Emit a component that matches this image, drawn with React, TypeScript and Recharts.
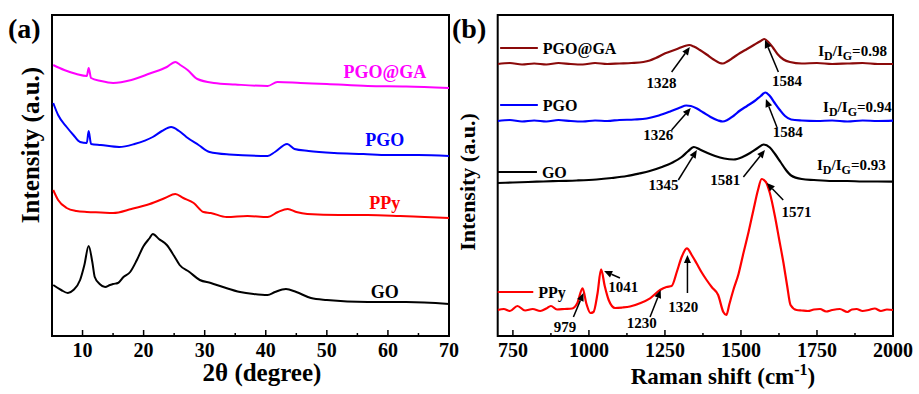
import React from "react"
import { LineChart, Line, XAxis, YAxis, ReferenceArea, ReferenceLine, ReferenceDot, Customized } from "recharts"

const FONT = '"Liberation Serif", "DejaVu Serif", serif'

// ---- (a) XRD: [2θ, intensity] ----
const xrdGO: [number, number][] = [
  [5.2, 51], [6.5, 46], [7.6, 43], [8.5, 46], [9.6, 56], [10.3, 71], [11.0, 90], [11.6, 74], [12.0, 59],
  [12.8, 52], [13.7, 49], [14.5, 51], [15.0, 52], [15.8, 53], [16.7, 59], [17.8, 64], [18.9, 76], [20.0, 90],
  [21.0, 98], [21.5, 102], [22.5, 97], [23.8, 91], [25.0, 80], [25.9, 71], [27.5, 64], [29.2, 56], [31, 53],
  [33, 49], [35.8, 44], [38, 42], [40.3, 41], [41.5, 44], [43.3, 47], [45, 44], [47.4, 38], [50, 36],
  [56.7, 34], [63, 34], [70, 32],
]
const xrdPPy: [number, number][] = [
  [5.2, 146], [6, 136], [7.4, 128], [9, 125], [10.7, 124], [13, 123.5], [15.0, 123], [18, 127], [21.0, 132],
  [23.5, 138], [25.2, 142], [26.5, 138], [28.2, 133], [29.8, 124], [31, 123], [33.6, 119], [37, 120],
  [40.3, 119], [42, 124], [43.6, 127], [45, 124], [46.8, 122], [52, 121], [56.7, 121], [62, 120], [66, 119],
  [70, 118],
]
const xrdPGO: [number, number][] = [
  [5.2, 233], [6, 221], [7.4, 209], [8.5, 201], [9.6, 194], [10.7, 193], [11.0, 205], [11.4, 192], [13, 191],
  [16.0, 189], [18.5, 192], [21.5, 199], [23, 205], [24.5, 209], [25.8, 205], [27.0, 199], [29, 191],
  [30.8, 184], [34, 181.5], [40.3, 180], [41.5, 184], [43.5, 192], [44.7, 187], [47, 185], [51.2, 183],
  [56, 182], [60, 181], [65, 181], [70, 180],
]
const xrdPGOGA: [number, number][] = [
  [5.2, 271], [7, 266], [9, 262], [10.7, 260], [11.0, 268], [11.4, 258], [13, 255], [15.0, 253], [18, 256],
  [21, 262.5], [23.8, 269], [25.2, 274], [26, 271], [27.2, 266], [28.8, 257], [31.5, 253], [35, 251.5],
  [40.3, 250], [41.9, 254], [45.7, 253], [50, 252], [56.7, 250], [63, 249.5], [70, 248],
]
const xrdMajorTicks = [10, 20, 30, 40, 50, 60, 70]
const xrdMinorTicks = [15, 25, 35, 45, 55, 65]

// ---- (b) Raman: [shift, intensity] ----
const ramanPGOGA: [number, number][] = [
  [700, 272], [740, 273], [780, 271.5], [820, 272.5], [860, 271.5], [900, 273], [940, 272], [980, 271.5],
  [1020, 273], [1060, 272], [1100, 272.5], [1140, 273], [1179, 274], [1200, 275.5], [1220, 278], [1251, 282.7],
  [1290, 287], [1315, 290], [1330, 291], [1345, 289.5], [1365, 286], [1387, 281.5], [1410, 276.5],
  [1430, 273], [1440, 272.5], [1455, 274.5], [1475, 278.5], [1497, 283], [1520, 287], [1545, 291.5],
  [1565, 295], [1577, 297], [1590, 294], [1605, 288.5], [1620, 282], [1640, 276.5], [1661, 274],
  [1700, 272.5], [1750, 273], [1800, 272], [1850, 272.5], [1900, 273], [1950, 272], [2000, 272],
]
const ramanPGO: [number, number][] = [
  [700, 215], [740, 216], [780, 214.5], [820, 215.5], [860, 214.5], [900, 216], [940, 215], [980, 214.5],
  [1020, 215.5], [1060, 215], [1100, 216], [1150, 216.5], [1190, 217.5], [1230, 220.5], [1267, 224.5],
  [1300, 228.5], [1320, 230.5], [1335, 230], [1355, 227.5], [1376, 223.5], [1400, 219], [1425, 215.5],
  [1440, 214.5], [1455, 216], [1475, 220], [1497, 225.5], [1520, 230], [1545, 235], [1565, 240],
  [1580, 243.5], [1595, 240], [1610, 233.5], [1628, 226], [1645, 220], [1665, 216.5], [1700, 215.5],
  [1750, 215], [1800, 215.5], [1850, 214.5], [1900, 215.5], [1950, 215], [2000, 215.3],
]
const ramanGO: [number, number][] = [
  [700, 153], [750, 153.5], [800, 154], [850, 154.5], [900, 155], [960, 155.5], [1025, 156.5], [1075, 158],
  [1125, 160], [1165, 162.5], [1200, 165], [1240, 169], [1275, 173.5], [1305, 179], [1325, 184.5],
  [1345, 189], [1365, 186.5], [1390, 183], [1415, 180], [1445, 177.5], [1476, 176.5], [1505, 179],
  [1530, 183], [1555, 188], [1575, 191.5], [1595, 188.5], [1612, 182], [1630, 174], [1648, 166],
  [1665, 160.5], [1700, 157], [1740, 156], [1800, 155], [1850, 155], [1900, 154.5], [1950, 154.5], [2000, 154.3],
]
const ramanPPy: [number, number][] = [
  [700, 26], [720, 27], [740, 25], [765, 30], [790, 25.5], [815, 27], [840, 25], [860, 27.5], [875, 30],
  [895, 26.5], [920, 27], [945, 27.5], [962, 33], [979, 47.7], [992, 32], [1005, 23], [1015, 24],
  [1028, 42], [1040, 66.7], [1052, 50], [1065, 36], [1086, 28], [1110, 28.5], [1135, 29.5], [1170, 33],
  [1201, 37.7], [1234, 46], [1255, 49], [1272, 50], [1290, 65], [1305, 79], [1322, 87.7], [1340, 80],
  [1354, 72.7], [1370, 64], [1387, 56], [1405, 48.5], [1425, 41], [1442, 24], [1452, 21], [1462, 32],
  [1475, 46], [1492, 62], [1508, 82.7], [1525, 104], [1541, 126], [1556, 146], [1568, 157], [1582, 154],
  [1595, 143], [1612, 119.3], [1626, 96], [1640, 72.7], [1652, 50], [1663, 31], [1683, 26], [1700, 25.5],
  [1720, 25], [1740, 26.5], [1760, 27], [1780, 24.5], [1800, 26], [1825, 27], [1850, 24], [1865, 26.5],
  [1880, 27], [1900, 25], [1920, 26], [1940, 27.5], [1960, 25], [1980, 26.5], [2000, 26],
]
const ramanMajorTicks = [750, 1000, 1250, 1500, 1750, 2000]
const ramanMinorTicks = [875, 1125, 1375, 1625, 1875]

// peak arrows: label, head [x,y], tail [x,y], text [x,y]
const ramanPeaks: { label: string; head: [number, number]; tail: [number, number]; text: [number, number] }[] = [
  { label: "1328", head: [1332, 289], tail: [1272, 264], text: [1239, 253] },
  { label: "1584", head: [1579, 296], tail: [1623, 264], text: [1651, 255] },
  { label: "1326", head: [1335, 228], tail: [1272, 206], text: [1228, 201] },
  { label: "1584", head: [1582, 237], tail: [1618, 209], text: [1654, 204] },
  { label: "1345", head: [1355, 186], tail: [1294, 156], text: [1245, 151] },
  { label: "1581", head: [1579, 186], tail: [1508, 159], text: [1448, 156] },
  { label: "1571", head: [1585, 153], tail: [1639, 136], text: [1683, 124] },
  { label: "1041", head: [1050, 65], tail: [1102, 58], text: [1113, 49] },
  { label: "1320", head: [1324, 81], tail: [1324, 43], text: [1310, 29] },
  { label: "1230", head: [1236, 46], tail: [1201, 19], text: [1174, 13] },
  { label: "979", head: [982, 43], tail: [949, 19], text: [921, 9] },
]
const ratioLabels: { sub: [string, string]; value: string; at: [number, number] }[] = [
  { sub: ["D", "G"], value: "=0.98", at: [1980, 280] },
  { sub: ["D", "G"], value: "=0.94", at: [1996, 224] },
  { sub: ["D", "G"], value: "=0.93", at: [1976, 166] },
]
const ramanLegend: { name: string; color: string; line: [number, number]; y: number }[] = [
  { name: "PGO@GA", color: "#8B0A0A", line: [708, 832], y: 288 },
  { name: "PGO", color: "#0000FF", line: [708, 832], y: 231 },
  { name: "GO", color: "#000000", line: [700, 829], y: 164 },
  { name: "PPy", color: "#FF0000", line: [700, 817], y: 44 },
]

const toPoints = (rows: [number, number][]) => rows.map(([x, y]) => ({ x, y }))

const bold = { fontFamily: FONT, fontWeight: 700 }

const makeTick = (major: number[]) => (props: any) => {
  const { x, y, payload } = props
  const isMajor = major.includes(payload.value)
  return (
    <g>
      <line x1={x} x2={x} y1={y} y2={y - (isMajor ? 6 : 3)} stroke="#000" strokeWidth={1.5} />
      {isMajor && (
        <text x={x} y={y + 21} textAnchor="middle" style={{ ...bold, fontSize: 20 }} fill="#000">
          {payload.value}
        </text>
      )}
    </g>
  )
}

const arrowShape = (p: any) => {
  const { x1, y1, x2, y2 } = p
  const ang = Math.atan2(y2 - y1, x2 - x1)
  const L = 8
  const W = 3.5
  const bx = x2 - L * Math.cos(ang)
  const by = y2 - L * Math.sin(ang)
  const pts = `${x2},${y2} ${bx + W * Math.sin(ang)},${by - W * Math.cos(ang)} ${bx - W * Math.sin(ang)},${by + W * Math.cos(ang)}`
  return (
    <g>
      <line x1={x1} y1={y1} x2={bx} y2={by} stroke="#000" strokeWidth={1.5} />
      <polygon points={pts} fill="#000" />
    </g>
  )
}

const XrdTitles = () => (
  <g>
    <text x={8} y={38} style={{ ...bold, fontSize: 28 }} fill="#000">(a)</text>
    <text transform="translate(30,145) rotate(-90)" textAnchor="middle" dominantBaseline="central" style={{ ...bold, fontSize: 25 }} fill="#000">
      Intensity (a.u.)
    </text>
    <text x={262} y={381} textAnchor="middle" style={{ ...bold, fontSize: 25 }} fill="#000">2θ (degree)</text>
  </g>
)

const RamanTitles = () => (
  <g>
    <text x={12} y={38} style={{ ...bold, fontSize: 28 }} fill="#000">(b)</text>
    <text transform="translate(27,182) rotate(-90)" textAnchor="middle" dominantBaseline="central" style={{ ...bold, fontSize: 22 }} fill="#000">
      Intensity (a.u.)
    </text>
    <text x={283} y={384} textAnchor="middle" style={{ ...bold, fontSize: 23 }} fill="#000">
      Raman shift (cm<tspan dy={-9} style={{ fontSize: 16 }}>-1</tspan><tspan dy={9}>)</tspan>
    </text>
  </g>
)

const xrdSeries = [
  { name: "GO", rows: xrdGO, color: "#000000", label: [59.5, 44] as [number, number] },
  { name: "PPy", rows: xrdPPy, color: "#FF0000", label: [59.5, 133] as [number, number] },
  { name: "PGO", rows: xrdPGO, color: "#0000FF", label: [59.5, 196] as [number, number] },
  { name: "PGO@GA", rows: xrdPGOGA, color: "#FF00FF", label: [59.5, 264] as [number, number] },
]

const ramanSeries = [
  { rows: ramanPPy, color: "#FF0000" },
  { rows: ramanGO, color: "#000000" },
  { rows: ramanPGO, color: "#0000FF" },
  { rows: ramanPGOGA, color: "#8B0A0A" },
]

export default function App() {
  return (
    <div style={{ position: "absolute", left: 0, top: 0, width: 919, height: 394, background: "#fff" }}>
      <div style={{ position: "absolute", left: 0, top: 0 }}>
        <LineChart width={470} height={394} margin={{ top: 15, right: 21, left: 52, bottom: 28 }}>
          <XAxis
            dataKey="x"
            type="number"
            domain={[5, 70]}
            allowDataOverflow
            ticks={[...xrdMajorTicks, ...xrdMinorTicks].sort((a, b) => a - b)}
            interval={0}
            height={30}
            tickSize={0}
            tickMargin={0}
            axisLine={false}
            tickLine={false}
            tick={makeTick(xrdMajorTicks)}
          />
          <YAxis type="number" domain={[0, 321]} hide allowDataOverflow />
          {xrdSeries.map((s) => (
            <Line key={s.name} data={toPoints(s.rows)} dataKey="y" type="monotone" stroke={s.color} strokeWidth={2} dot={false} isAnimationActive={false} />
          ))}
          {xrdSeries.map((s) => (
            <ReferenceDot
              key={"lbl" + s.name}
              x={s.label[0]}
              y={s.label[1]}
              r={0}
              shape={(p: any) => (
                <text x={p.cx} y={p.cy} textAnchor="middle" dominantBaseline="central" style={{ ...bold, fontSize: 18 }} fill={s.color}>
                  {s.name}
                </text>
              )}
            />
          ))}
          <ReferenceArea x1={5} x2={70} y1={0} y2={321} fill="none" stroke="#000" strokeWidth={2} fillOpacity={0} />
          <Customized component={<XrdTitles />} />
        </LineChart>
      </div>
      <div style={{ position: "absolute", left: 440, top: 0 }}>
        <LineChart width={479} height={394} margin={{ top: 15, right: 26, left: 57.7, bottom: 28 }}>
          <XAxis
            dataKey="x"
            type="number"
            domain={[700, 2000]}
            allowDataOverflow
            ticks={[...ramanMajorTicks, ...ramanMinorTicks].sort((a, b) => a - b)}
            interval={0}
            height={30}
            tickSize={0}
            tickMargin={0}
            axisLine={false}
            tickLine={false}
            tick={makeTick(ramanMajorTicks)}
          />
          <YAxis type="number" domain={[0, 321]} hide allowDataOverflow />
          {ramanSeries.map((s, i) => (
            <Line key={i} data={toPoints(s.rows)} dataKey="y" type="monotone" stroke={s.color} strokeWidth={2.2} dot={false} isAnimationActive={false} />
          ))}
          {ramanLegend.map((l) => (
            <ReferenceLine key={"leg" + l.name} segment={[{ x: l.line[0], y: l.y }, { x: l.line[1], y: l.y }]} stroke={l.color} strokeWidth={2} />
          ))}
          {ramanLegend.map((l) => (
            <ReferenceDot
              key={"legt" + l.name}
              x={l.line[1]}
              y={l.y}
              r={0}
              shape={(p: any) => (
                <text x={p.cx + 5} y={p.cy} dominantBaseline="central" style={{ ...bold, fontSize: 16 }} fill="#000">
                  {l.name}
                </text>
              )}
            />
          ))}
          {ramanPeaks.map((a, i) => (
            <ReferenceLine key={"arr" + i} segment={[{ x: a.tail[0], y: a.tail[1] }, { x: a.head[0], y: a.head[1] }]} shape={arrowShape} />
          ))}
          {ramanPeaks.map((a, i) => (
            <ReferenceDot
              key={"pk" + i}
              x={a.text[0]}
              y={a.text[1]}
              r={0}
              shape={(p: any) => (
                <text x={p.cx} y={p.cy} textAnchor="middle" dominantBaseline="central" style={{ ...bold, fontSize: 15 }} fill="#000">
                  {a.label}
                </text>
              )}
            />
          ))}
          {ratioLabels.map((r, i) => (
            <ReferenceDot
              key={"ratio" + i}
              x={r.at[0]}
              y={r.at[1]}
              r={0}
              shape={(p: any) => (
                <text x={p.cx} y={p.cy} textAnchor="end" style={{ ...bold, fontSize: 15 }} fill="#000">
                  I<tspan dy={4} style={{ fontSize: 12 }}>{r.sub[0]}</tspan>
                  <tspan dy={-4}>/I</tspan>
                  <tspan dy={4} style={{ fontSize: 12 }}>{r.sub[1]}</tspan>
                  <tspan dy={-4}>{r.value}</tspan>
                </text>
              )}
            />
          ))}
          <ReferenceArea x1={700} x2={2000} y1={0} y2={321} fill="none" stroke="#000" strokeWidth={2} fillOpacity={0} />
          <Customized component={<RamanTitles />} />
        </LineChart>
      </div>
    </div>
  )
}
